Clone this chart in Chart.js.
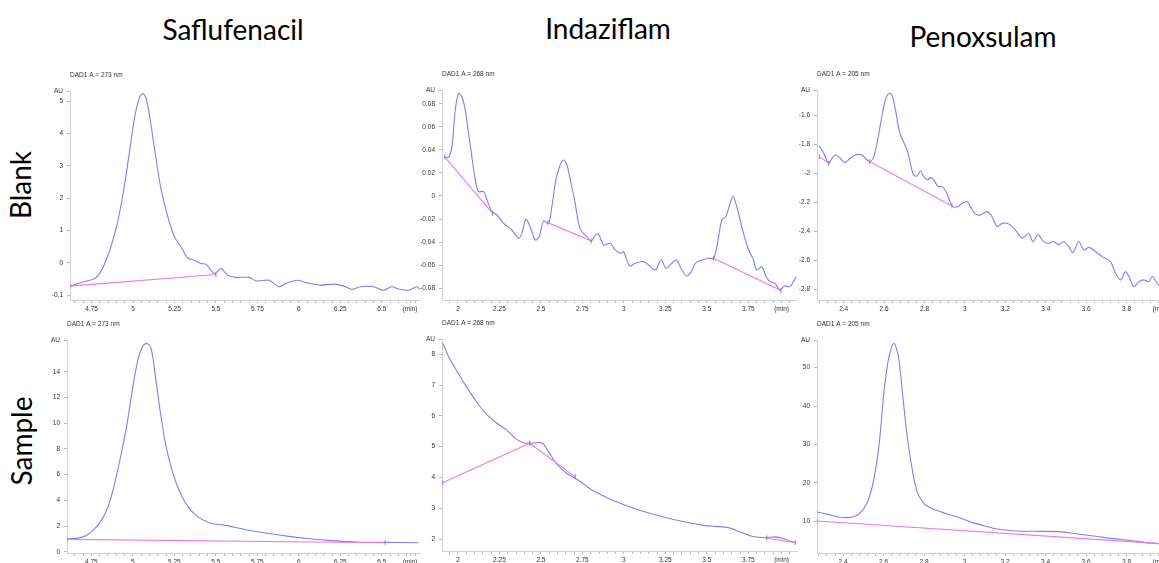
<!DOCTYPE html>
<html>
<head>
<meta charset="utf-8">
<script src="https://cdn.jsdelivr.net/npm/chart.js@4.4.0/dist/chart.umd.min.js"></script>
<style>
  html, body { margin: 0; padding: 0; background: #fff; overflow: hidden; width: 1159px; height: 563px; position: relative; }
  .lbl { position: absolute; font-family: Lato, sans-serif; font-size: 28px; color: #000; line-height: 1; white-space: nowrap; transform: translate(-50%, -50%); }
  .row { transform: translate(-50%, -50%) rotate(-90deg); }
  canvas { position: absolute; }
</style>
</head>
<body>
<div class="lbl" style="left:233px;top:29px">Saflufenacil</div>
<div class="lbl" style="left:608px;top:28px">Indaziflam</div>
<div class="lbl" style="left:983px;top:36px">Penoxsulam</div>
<div class="lbl row" style="left:20px;top:185px">Blank</div>
<div class="lbl row" style="left:21px;top:441px">Sample</div>

<canvas id="p1" width="382" height="251" style="left:44px;top:67px"></canvas>
<canvas id="p2" width="387" height="252" style="left:416px;top:66px"></canvas>
<canvas id="p3" width="380" height="252" style="left:791px;top:66px"></canvas>
<canvas id="p4" width="385" height="255" style="left:41px;top:316px"></canvas>
<canvas id="p5" width="387" height="254" style="left:416px;top:315px"></canvas>
<canvas id="p6" width="380" height="255" style="left:791px;top:316px"></canvas>

<script>
// ---- Saflufenacil, blank ----
var safBlankTime = [4.62,4.70,4.77,4.81,4.86,4.90,4.94,4.98,5.01,5.04,5.06,5.08,5.11,5.14,5.17,5.21,5.25,5.29,5.33,5.37,5.41,5.44,5.49,5.53,5.57,5.62,5.70,5.74,5.82,5.88,5.92,5.99,6.05,6.13,6.21,6.27,6.32,6.37,6.45,6.51,6.56,6.60,6.66,6.71,6.73];
var safBlankAU = [-0.72,-0.59,-0.48,-0.23,0.39,1.11,2.14,3.48,4.52,5.13,5.24,5.08,4.21,3.18,2.25,1.42,0.80,0.49,0.15,0.08,-0.02,-0.04,-0.33,-0.18,-0.38,-0.45,-0.45,-0.56,-0.54,-0.74,-0.64,-0.54,-0.62,-0.69,-0.66,-0.72,-0.82,-0.74,-0.74,-0.85,-0.74,-0.81,-0.85,-0.74,-0.82];
var safBlankBaseTime = [4.62, 5.50];
var safBlankBaseAU = [-0.72, -0.36];

// ---- Indaziflam, blank ----
var indBlankTime = [1.92,1.944,1.964,1.984,2.004,2.024,2.044,2.06,2.084,2.104,2.124,2.155,2.175,2.205,2.235,2.275,2.325,2.365,2.385,2.41,2.435,2.466,2.49,2.516,2.546,2.566,2.59,2.616,2.637,2.657,2.677,2.703,2.727,2.747,2.777,2.803,2.827,2.847,2.878,2.918,2.948,2.978,2.998,3.034,3.068,3.118,3.149,3.189,3.225,3.253,3.279,3.315,3.349,3.38,3.406,3.43,3.47,3.51,3.54,3.56,3.59,3.614,3.634,3.657,3.68,3.71,3.741,3.761,3.781,3.80,3.831,3.855,3.88,3.91,3.94,3.967,4.00,4.038];
var indBlankAU = [0.034,0.0335,0.043,0.0746,0.089,0.086,0.0746,0.0587,0.034,0.0139,0.0038,0.0038,-0.0035,-0.0136,-0.0165,-0.0237,-0.0295,-0.0367,-0.0324,-0.0202,-0.0266,-0.0382,-0.0353,-0.0217,-0.0237,-0.0092,0.0139,0.0269,0.0312,0.0269,0.0139,-0.0035,-0.0237,-0.031,-0.0353,-0.039,-0.0344,-0.033,-0.0425,-0.041,-0.0468,-0.0497,-0.0483,-0.0607,-0.0584,-0.0569,-0.0598,-0.0642,-0.0555,-0.0627,-0.0598,-0.0555,-0.0642,-0.0694,-0.0656,-0.0584,-0.0555,-0.054,-0.054,-0.0439,-0.0208,-0.0179,-0.0092,0,-0.0092,-0.0266,-0.0425,-0.0497,-0.0555,-0.0642,-0.0613,-0.0694,-0.0743,-0.0757,-0.0815,-0.078,-0.0786,-0.07];
var indBlankBaseTime = [1.92, 2.209, 2.542, 2.803, 3.54, 3.946];
var indBlankBaseAU = [0.034, -0.015, -0.0231, -0.039, -0.054, -0.082];

// ---- Penoxsulam, blank ----
var penBlankTime = [2.28,2.30,2.326,2.339,2.359,2.383,2.405,2.433,2.458,2.491,2.516,2.532,2.549,2.565,2.586,2.606,2.623,2.639,2.656,2.676,2.692,2.713,2.73,2.746,2.763,2.78,2.796,2.817,2.829,2.846,2.867,2.887,2.907,2.923,2.94,2.966,2.986,3.011,3.027,3.052,3.077,3.11,3.134,3.159,3.184,3.217,3.25,3.283,3.316,3.336,3.362,3.39,3.415,3.44,3.464,3.489,3.514,3.534,3.563,3.588,3.613,3.646,3.679,3.72,3.745,3.77,3.794,3.811,3.836,3.861,3.885,3.91,3.927,3.952,3.963];
var penBlankAU = [-1.811,-1.857,-1.931,-1.903,-1.873,-1.896,-1.926,-1.896,-1.873,-1.873,-1.908,-1.919,-1.885,-1.793,-1.631,-1.493,-1.447,-1.459,-1.562,-1.712,-1.770,-1.834,-1.931,-2.012,-2.018,-1.982,-2.023,-2.046,-2.028,-2.046,-2.092,-2.092,-2.127,-2.184,-2.23,-2.23,-2.207,-2.196,-2.23,-2.281,-2.288,-2.265,-2.30,-2.369,-2.346,-2.35,-2.392,-2.449,-2.415,-2.472,-2.426,-2.472,-2.484,-2.472,-2.495,-2.472,-2.507,-2.548,-2.472,-2.53,-2.512,-2.541,-2.576,-2.611,-2.691,-2.737,-2.68,-2.714,-2.783,-2.749,-2.737,-2.749,-2.714,-2.76,-2.779];
var penBlankBaseTime = [2.28, 2.326, 2.527, 2.936];
var penBlankBaseAU = [-1.885, -1.931, -1.919, -2.226];

// ---- Saflufenacil, sample ----
var safSampleTime = [4.603,4.66,4.72,4.77,4.81,4.85,4.89,4.93,4.965,5.00,5.03,5.06,5.085,5.11,5.136,5.164,5.196,5.23,5.27,5.32,5.38,5.46,5.56,5.68,5.80,5.94,6.06,6.18,6.34,6.52,6.72];
var safSampleAU = [0.99,1.04,1.27,1.79,2.44,3.48,5.30,7.64,9.97,12.83,14.91,16.0,16.2,15.8,13.6,11.0,8.42,6.60,5.04,3.74,2.83,2.26,2.05,1.71,1.45,1.19,1.01,0.88,0.75,0.73,0.70];
var safSampleBaseTime = [4.603, 6.52];
var safSampleBaseAU = [0.96, 0.70];

// ---- Indaziflam, sample ----
var indSampleTime = [1.908,1.944,1.994,2.044,2.104,2.165,2.235,2.295,2.345,2.396,2.436,2.476,2.51,2.546,2.596,2.657,2.727,2.807,2.908,3.008,3.129,3.25,3.37,3.47,3.55,3.63,3.70,3.771,3.851,3.912,3.962,4.002,4.036];
var indSampleAU = [8.37,7.93,7.45,7.01,6.52,6.09,5.76,5.54,5.27,5.13,5.11,5.13,5.11,4.84,4.43,4.13,3.91,3.59,3.32,3.10,2.88,2.70,2.55,2.45,2.41,2.37,2.23,2.09,2.04,2.07,2.01,1.93,1.89];
var indSampleBaseTime = [1.908, 2.432, 2.432, 2.707, 3.861, 4.032];
var indSampleBaseAU = [3.83, 5.11, 5.11, 4.02, 2.03, 1.88];

// ---- Penoxsulam, sample ----
var penSampleTime = [2.271,2.329,2.379,2.428,2.469,2.502,2.53,2.557,2.58,2.601,2.623,2.64,2.651,2.662,2.676,2.695,2.717,2.742,2.766,2.80,2.84,2.907,2.973,3.039,3.105,3.171,3.253,3.352,3.468,3.567,3.649,3.732,3.814,3.897,3.966];
var penSampleAU = [12.43,11.74,11.13,10.96,11.57,13.30,16.35,22.43,31.13,43.30,52.0,55.4,56.3,55.2,52.0,42.43,32.0,23.3,17.65,14.6,13.3,12.0,10.96,9.65,8.70,7.91,7.48,7.39,7.30,6.61,6.09,5.48,5.04,4.43,4.17];
var penSampleBaseTime = [2.271, 3.966];
var penSampleBaseAU = [10.09, 4.17];

// ---- tick labels ----
var safXTicks = [4.75, 5, 5.25, 5.5, 5.75, 6, 6.25, 6.5];
var indXTicks = [2, 2.25, 2.5, 2.75, 3, 3.25, 3.5, 3.75];
var penXTicks = [2.4, 2.6, 2.8, 3, 3.2, 3.4, 3.6, 3.8];

var safBlankYTicks = [-1, 0, 1, 2, 3, 4, 5];
var safBlankYLabels = ['-0.1', '0', '1', '2', '3', '4', '5'];
var indBlankYTicks = [-0.08, -0.06, -0.04, -0.02, 0, 0.02, 0.04, 0.06, 0.08];
var indBlankYLabels = ['-0.08', '-0.06', '-0.04', '-0.02', '0', '0.02', '0.04', '0.06', '0.08'];
var penBlankYTicks = [-2.8, -2.6, -2.4, -2.2, -2, -1.8, -1.6];
var penBlankYLabels = ['-2.8', '-2.6', '-2.4', '-2.2', '-2', '-1.8', '-1.6'];
var safSampleYTicks = [0, 2, 4, 6, 8, 10, 12, 14];
var safSampleYLabels = ['0', '2', '4', '6', '8', '10', '12', '14'];
var indSampleYTicks = [2, 3, 4, 5, 6, 7, 8];
var indSampleYLabels = ['2', '3', '4', '5', '6', '7', '8'];
var penSampleYTicks = [10, 20, 30, 40, 50];
var penSampleYLabels = ['10', '20', '30', '40', '50'];

var traceColor = '#7f7ff4';
var baseColor = '#f075f0';
var axisColor = '#d4d4d4';
var tickColor = '#b8b8b8';
var textColor = '#333';
var tickFont = { family: 'Liberation Sans', size: 6.5 };

// small header text "DAD1 A = ..." placed at the top-left of the plot area
var headerPlugin = {
  id: 'dadHeader',
  afterDraw: function (chart, args, opts) {
    var ctx = chart.ctx, area = chart.chartArea;
    ctx.save();
    ctx.font = '6.5px "Liberation Sans"';
    ctx.fillStyle = textColor;
    ctx.textBaseline = 'middle';
    ctx.fillText(opts.text, area.left, area.top - 16);
    ctx.restore();
  }
};

function pts(xs, ys) {
  return xs.map(function (x, i) { return { x: x, y: ys[i] }; });
}

function near(a, b) { return Math.abs(a - b) < 1e-6; }

function makePanel(id, p) {
  var datasets = [{
    data: pts(p.time, p.au),
    borderColor: traceColor, borderWidth: 1.1, pointRadius: 0, tension: 0.3, order: 1
  }];
  for (var i = 0; i + 1 < p.baseTime.length; i += 2) {
    datasets.push({
      data: pts(p.baseTime.slice(i, i + 2), p.baseAU.slice(i, i + 2)),
      borderColor: baseColor, borderWidth: 1.1,
      pointRadius: 2.5, pointStyle: 'line', rotation: 90,
      pointBorderColor: '#777', pointBorderWidth: 0.8, order: 0
    });
  }

  new Chart(document.getElementById(id), {
    type: 'line',
    data: { datasets: datasets },
    options: {
      responsive: false,
      animation: false,
      layout: { padding: { top: 24, right: 6, left: 0, bottom: 0 } },
      plugins: {
        legend: { display: false },
        tooltip: { enabled: false },
        dadHeader: { text: p.header }
      },
      scales: {
        x: {
          type: 'linear',
          min: p.xMin, max: p.xMax,
          border: { color: axisColor },
          grid: { drawOnChartArea: false, tickLength: 3, color: tickColor },
          afterBuildTicks: function (axis) {
            var t = [];
            for (var k = Math.ceil(p.xMin / p.xStep - 1e-9); k * p.xStep <= p.xMax + 1e-9; k++) {
              var v = +(k * p.xStep).toFixed(4);
              if (!near(v, p.xUnit)) t.push({ value: v });
            }
            t.push({ value: p.xUnit });
            t.sort(function (a, b) { return a.value - b.value; });
            axis.ticks = t;
          },
          ticks: {
            autoSkip: false, maxRotation: 0, padding: 2, font: tickFont, color: textColor,
            callback: function (v) {
              if (near(v, p.xUnit)) return '(min)';
              for (var j = 0; j < p.xTicks.length; j++) if (near(v, p.xTicks[j])) return String(p.xTicks[j]);
              return '';
            }
          },
          afterFit: function (axis) { axis.height = 18; }
        },
        y: {
          type: 'linear',
          min: p.yMin, max: p.yMax,
          border: { color: axisColor },
          grid: { drawOnChartArea: false, tickLength: 3, color: tickColor },
          afterBuildTicks: function (axis) {
            var t = p.yTicks.map(function (v) { return { value: v }; });
            t.push({ value: p.yMax });
            axis.ticks = t;
          },
          ticks: {
            autoSkip: false, padding: 4, font: tickFont, color: textColor,
            callback: function (v) {
              if (near(v, p.yMax)) return 'AU';
              for (var j = 0; j < p.yTicks.length; j++) if (near(v, p.yTicks[j])) return p.yLabels[j];
              return '';
            }
          },
          afterFit: function (axis) { axis.width = 26; }
        }
      }
    },
    plugins: [headerPlugin]
  });
}

makePanel('p1', {
  header: 'DAD1 A = 273 nm',
  time: safBlankTime, au: safBlankAU, baseTime: safBlankBaseTime, baseAU: safBlankBaseAU,
  xMin: 4.62, xMax: 6.73, xStep: 0.05, xUnit: 6.67, xTicks: safXTicks,
  yMin: -1.15, yMax: 5.32, yTicks: safBlankYTicks, yLabels: safBlankYLabels
});
makePanel('p2', {
  header: 'DAD1 A = 268 nm',
  time: indBlankTime, au: indBlankAU, baseTime: indBlankBaseTime, baseAU: indBlankBaseAU,
  xMin: 1.904, xMax: 4.043, xStep: 0.05, xUnit: 3.95, xTicks: indXTicks,
  yMin: -0.0902, yMax: 0.0919, yTicks: indBlankYTicks, yLabels: indBlankYLabels
});
makePanel('p3', {
  header: 'DAD1 A = 205 nm',
  time: penBlankTime, au: penBlankAU, baseTime: penBlankBaseTime, baseAU: penBlankBaseAU,
  xMin: 2.268, xMax: 3.99, xStep: 0.04, xUnit: 3.965, xTicks: penXTicks,
  yMin: -2.876, yMax: -1.424, yTicks: penBlankYTicks, yLabels: penBlankYLabels
});
makePanel('p4', {
  header: 'DAD1 A = 273 nm',
  time: safSampleTime, au: safSampleAU, baseTime: safSampleBaseTime, baseAU: safSampleBaseAU,
  xMin: 4.603, xMax: 6.73, xStep: 0.05, xUnit: 6.67, xTicks: safXTicks,
  yMin: -0.10, yMax: 16.47, yTicks: safSampleYTicks, yLabels: safSampleYLabels
});
makePanel('p5', {
  header: 'DAD1 A = 268 nm',
  time: indSampleTime, au: indSampleAU, baseTime: indSampleBaseTime, baseAU: indSampleBaseAU,
  xMin: 1.904, xMax: 4.043, xStep: 0.05, xUnit: 3.95, xTicks: indXTicks,
  yMin: 1.61, yMax: 8.5, yTicks: indSampleYTicks, yLabels: indSampleYLabels
});
makePanel('p6', {
  header: 'DAD1 A = 205 nm',
  time: penSampleTime, au: penSampleAU, baseTime: penSampleBaseTime, baseAU: penSampleBaseAU,
  xMin: 2.271, xMax: 3.99, xStep: 0.04, xUnit: 3.965, xTicks: penXTicks,
  yMin: 1.74, yMax: 57.2, yTicks: penSampleYTicks, yLabels: penSampleYLabels
});
</script>
</body>
</html>
